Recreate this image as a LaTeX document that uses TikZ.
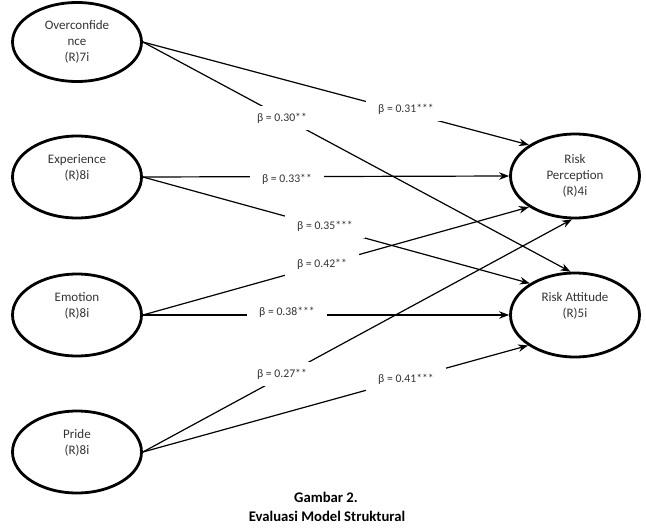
\documentclass[tikz,border=0pt]{standalone}
\usepackage{fontspec}
\setmainfont{Carlito}
\usetikzlibrary{shapes.geometric,arrows.meta}
\begin{document}
\begin{tikzpicture}[x=1pt,y=-1pt,
  lat/.style={ellipse, draw, line width=2.8pt, minimum width=129pt, minimum height=82pt, inner sep=0pt, align=center, font=\fontsize{13}{16}\selectfont, text=black!80},
  conn/.style={line width=1.2pt, -{Stealth[length=10pt,width=7.5pt]}},
  coef/.style={fill=white, inner xsep=12pt, inner ysep=0pt, minimum height=24pt, font=\fontsize{11.7}{14}\selectfont, text=black!80},
  captext/.style={font=\fontsize{14.7}{18}\selectfont\bfseries, anchor=base, inner sep=0pt}
]
\useasboundingbox (0,0) rectangle (646,528);

% latent variables
\node[lat, minimum height=79pt] (over) at (77,42) {Overconfide\\nce\\(R)7i};
\node[lat] (exp)   at (77,177) {Experience\\(R)8i\\\strut};
\node[lat] (emo)   at (77,315) {Emotion\\(R)8i\\\strut};
\node[lat] (pride) at (77,452) {Pride\\(R)8i\\\strut};
\node[lat, minimum height=84pt] (rp) at (575,176) {Risk\\Perception\\(R)4i};
\node[lat, minimum height=84pt] (ra) at (575,315) {Risk Attitude\\(R)5i\\\strut};

% paths
\draw[conn] (over.east)  -- (rp.146.6);
\draw[conn] (over.east)  -- (ra.96.6);
\draw[conn] (exp.east)   -- (rp.west);
\draw[conn] (exp.east)   -- (ra.145.7);
\draw[conn] (emo.east)   -- (rp.214);
\draw[conn] (emo.east)   -- (ra.west);
\draw[conn] (pride.east) -- (rp.266);
\draw[conn] (pride.east) -- (ra.213.7);

% coefficients
\node[coef] (c1) at (282,118) {β = 0.30**};
\node[coef] (c2) at (406,109) {β = 0.31***};
\node[coef] (c3) at (287,179) {β = 0.33**};
\node[coef] (c4) at (325,226) {β = 0.35***};
\node[coef] (c5) at (322,264) {β = 0.42**};
\node[coef] (c6) at (287,312) {β = 0.38***};
\node[coef] (c7) at (282,374) {β = 0.27**};
\node[coef] (c8) at (406,379) {β = 0.41***};

% caption
\node[captext] (cap1) at (326,502) {Gambar 2.};
\node[captext] (cap2) at (327,521) {Evaluasi Model Struktural};
\end{tikzpicture}
\end{document}
